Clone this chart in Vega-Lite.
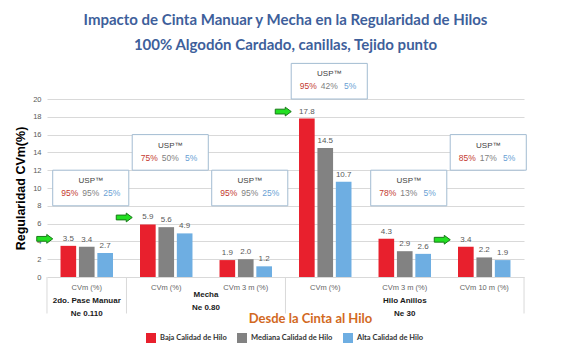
{
  "$schema": "https://vega.github.io/schema/vega-lite/v6.json",
  "autosize": "none",
  "width": 477,
  "height": 178,
  "padding": {"left": 47, "top": 99, "right": 39, "bottom": 77},
  "background": "white",
  "title": {
    "text": ["Impacto de Cinta Manuar y Mecha en la Regularidad de Hilos", "100% Algodón Cardado, canillas, Tejido punto"],
    "font": "Lato", "fontSize": 15, "fontWeight": "bold", "color": "#3e5f9b",
    "anchor": "middle", "frame": "group", "offset": 10, "lineHeight": 25
  },
  "datasets": {
    "bars": [
      {"cat": "CVm (%)|1", "q": "Baja Calidad de Hilo", "v": 3.5},
      {"cat": "CVm (%)|1", "q": "Mediana Calidad de Hilo", "v": 3.4},
      {"cat": "CVm (%)|1", "q": "Alta Calidad de Hilo", "v": 2.7},
      {"cat": "CVm (%)|2", "q": "Baja Calidad de Hilo", "v": 5.9},
      {"cat": "CVm (%)|2", "q": "Mediana Calidad de Hilo", "v": 5.6},
      {"cat": "CVm (%)|2", "q": "Alta Calidad de Hilo", "v": 4.9},
      {"cat": "CVm 3 m (%)|3", "q": "Baja Calidad de Hilo", "v": 1.9},
      {"cat": "CVm 3 m (%)|3", "q": "Mediana Calidad de Hilo", "v": 2.0},
      {"cat": "CVm 3 m (%)|3", "q": "Alta Calidad de Hilo", "v": 1.2},
      {"cat": "CVm (%)|4", "q": "Baja Calidad de Hilo", "v": 17.8},
      {"cat": "CVm (%)|4", "q": "Mediana Calidad de Hilo", "v": 14.5},
      {"cat": "CVm (%)|4", "q": "Alta Calidad de Hilo", "v": 10.7},
      {"cat": "CVm 3 m (%)|5", "q": "Baja Calidad de Hilo", "v": 4.3},
      {"cat": "CVm 3 m (%)|5", "q": "Mediana Calidad de Hilo", "v": 2.9},
      {"cat": "CVm 3 m (%)|5", "q": "Alta Calidad de Hilo", "v": 2.6},
      {"cat": "CVm 10 m (%)|6", "q": "Baja Calidad de Hilo", "v": 3.4},
      {"cat": "CVm 10 m (%)|6", "q": "Mediana Calidad de Hilo", "v": 2.2},
      {"cat": "CVm 10 m (%)|6", "q": "Alta Calidad de Hilo", "v": 1.9}
    ],
    "boxes": [
      {"cat": "CVm (%)|1", "top": 12, "bottom": 8},
      {"cat": "CVm (%)|2", "top": 16, "bottom": 12},
      {"cat": "CVm 3 m (%)|3", "top": 12, "bottom": 8},
      {"cat": "CVm (%)|4", "top": 24, "bottom": 20},
      {"cat": "CVm 3 m (%)|5", "top": 12, "bottom": 8},
      {"cat": "CVm 10 m (%)|6", "top": 16, "bottom": 12}
    ],
    "usp": [
      {"cat": "CVm (%)|1", "top": 12, "q": "Baja", "pct": "95%"},
      {"cat": "CVm (%)|1", "top": 12, "q": "Mediana", "pct": "95%"},
      {"cat": "CVm (%)|1", "top": 12, "q": "Alta", "pct": "25%"},
      {"cat": "CVm (%)|2", "top": 16, "q": "Baja", "pct": "75%"},
      {"cat": "CVm (%)|2", "top": 16, "q": "Mediana", "pct": "50%"},
      {"cat": "CVm (%)|2", "top": 16, "q": "Alta", "pct": "5%"},
      {"cat": "CVm 3 m (%)|3", "top": 12, "q": "Baja", "pct": "95%"},
      {"cat": "CVm 3 m (%)|3", "top": 12, "q": "Mediana", "pct": "95%"},
      {"cat": "CVm 3 m (%)|3", "top": 12, "q": "Alta", "pct": "25%"},
      {"cat": "CVm (%)|4", "top": 24, "q": "Baja", "pct": "95%"},
      {"cat": "CVm (%)|4", "top": 24, "q": "Mediana", "pct": "42%"},
      {"cat": "CVm (%)|4", "top": 24, "q": "Alta", "pct": "5%"},
      {"cat": "CVm 3 m (%)|5", "top": 12, "q": "Baja", "pct": "78%"},
      {"cat": "CVm 3 m (%)|5", "top": 12, "q": "Mediana", "pct": "13%"},
      {"cat": "CVm 3 m (%)|5", "top": 12, "q": "Alta", "pct": "5%"},
      {"cat": "CVm 10 m (%)|6", "top": 16, "q": "Baja", "pct": "85%"},
      {"cat": "CVm 10 m (%)|6", "top": 16, "q": "Mediana", "pct": "17%"},
      {"cat": "CVm 10 m (%)|6", "top": 16, "q": "Alta", "pct": "5%"}
    ],
    "arrows": [
      {"cat": "CVm (%)|1", "v": 3.5},
      {"cat": "CVm (%)|2", "v": 5.9},
      {"cat": "CVm (%)|4", "v": 17.8},
      {"cat": "CVm 10 m (%)|6", "v": 3.4}
    ],
    "groups": [
      {"cat": "CVm (%)|1", "label": "2do. Pase Manuar\nNe 0.110"},
      {"cat": "CVm 3 m (%)|5", "label": "Hilo Anillos\nNe  30"}
    ],
    "groups2": [
      {"cat": "CVm 3 m (%)|3", "label": "Mecha\nNe 0.80"}
    ],
    "seps": [
      {"cat": "CVm (%)|1"},
      {"cat": "CVm (%)|2"},
      {"cat": "CVm (%)|4"}
    ],
    "sepEnd": [
      {"cat": "CVm 10 m (%)|6"}
    ]
  },
  "layer": [
    {
      "data": {"name": "bars"},
      "mark": {"type": "bar"},
      "encoding": {
        "x": {
          "field": "cat", "type": "nominal", "sort": null,
          "scale": {"paddingInner": 0.34, "paddingOuter": 0.17},
          "axis": {
            "labelExpr": "split(datum.label, '|')[0]",
            "labelAngle": 0, "labelFont": "Liberation Sans", "labelFontSize": 7.5,
            "labelColor": "#666666", "labelPadding": 6, "ticks": false, "domain": false,
            "title": "Desde la Cinta al Hilo", "titleFont": "Lato", "titleFontSize": 13,
            "titleFontWeight": "bold", "titleColor": "#d2691e", "titlePadding": 22,
            "titleX": 263, "titleAlign": "center"
          }
        },
        "xOffset": {
          "field": "q", "type": "nominal",
          "sort": ["Baja Calidad de Hilo", "Mediana Calidad de Hilo", "Alta Calidad de Hilo"],
          "scale": {"paddingInner": 0.15, "paddingOuter": 0}
        },
        "y": {
          "field": "v", "type": "quantitative",
          "scale": {"domain": [0, 20], "nice": false},
          "axis": {
            "values": [0, 2, 4, 6, 8, 10, 12, 14, 16, 18, 20],
            "tickCount": 11,
            "labelOverlap": false,
            "title": "Regularidad CVm(%)"
          }
        },
        "color": {
          "field": "q", "type": "nominal",
          "scale": {
            "domain": ["Baja Calidad de Hilo", "Mediana Calidad de Hilo", "Alta Calidad de Hilo"],
            "range": ["#e8202d", "#828282", "#6eaee2"]
          },
          "legend": {
            "orient": "none", "legendX": 99, "legendY": 234, "direction": "horizontal", "title": null,
            "symbolType": "square", "symbolSize": 100, "symbolStrokeWidth": 0,
            "labelFont": "Lato", "labelFontSize": 7.5, "labelFontWeight": "bold",
            "labelColor": "#333333", "columnPadding": 10, "padding": 0
          }
        }
      }
    },
    {
      "data": {"name": "bars"},
      "mark": {"type": "text", "dy": -7, "font": "Liberation Sans", "fontSize": 8, "color": "#595959"},
      "encoding": {
        "x": {"field": "cat", "type": "nominal", "sort": null},
        "xOffset": {"field": "q", "type": "nominal", "sort": ["Baja Calidad de Hilo", "Mediana Calidad de Hilo", "Alta Calidad de Hilo"]},
        "y": {"field": "v", "type": "quantitative"},
        "text": {"field": "v", "type": "quantitative", "format": ".1f"}
      }
    },
    {
      "data": {"name": "boxes"},
      "mark": {"type": "bar", "fill": "white", "stroke": "#a3bcd2", "strokeWidth": 1, "width": {"band": 1.45}, "xOffset": 4},
      "encoding": {
        "x": {"field": "cat", "type": "nominal", "sort": null},
        "y": {"field": "top", "type": "quantitative"},
        "y2": {"field": "bottom"}
      }
    },
    {
      "data": {"name": "boxes"},
      "mark": {"type": "text", "text": "USP™", "dy": 11, "dx": 4, "baseline": "middle", "font": "Liberation Sans", "fontSize": 8, "color": "#404040"},
      "encoding": {
        "x": {"field": "cat", "type": "nominal", "sort": null},
        "y": {"field": "top", "type": "quantitative"}
      }
    },
    {
      "data": {"name": "usp"},
      "transform": [{"filter": "datum.q == 'Baja'"}],
      "mark": {"type": "text", "dy": 23, "dx": -17, "baseline": "middle", "font": "Liberation Sans", "fontSize": 8.5, "color": "#c43a2f"},
      "encoding": {
        "x": {"field": "cat", "type": "nominal", "sort": null},
        "y": {"field": "top", "type": "quantitative"},
        "text": {"field": "pct", "type": "nominal"}
      }
    },
    {
      "data": {"name": "usp"},
      "transform": [{"filter": "datum.q == 'Mediana'"}],
      "mark": {"type": "text", "dy": 23, "dx": 4, "baseline": "middle", "font": "Liberation Sans", "fontSize": 8.5, "color": "#7f7f7f"},
      "encoding": {
        "x": {"field": "cat", "type": "nominal", "sort": null},
        "y": {"field": "top", "type": "quantitative"},
        "text": {"field": "pct", "type": "nominal"}
      }
    },
    {
      "data": {"name": "usp"},
      "transform": [{"filter": "datum.q == 'Alta'"}],
      "mark": {"type": "text", "dy": 23, "dx": 25, "baseline": "middle", "font": "Liberation Sans", "fontSize": 8.5, "color": "#6a9fd4"},
      "encoding": {
        "x": {"field": "cat", "type": "nominal", "sort": null},
        "y": {"field": "top", "type": "quantitative"},
        "text": {"field": "pct", "type": "nominal"}
      }
    },
    {
      "data": {"name": "arrows"},
      "mark": {
        "type": "point", "filled": true, "size": 256, "xOffset": -42, "yOffset": -7,
        "shape": "M-1,-0.3L0.25,-0.3L0.25,-0.55L1,0L0.25,0.55L0.25,0.3L-1,0.3Z",
        "fill": "#22e022", "stroke": "#197a19", "strokeWidth": 1, "opacity": 1
      },
      "encoding": {
        "x": {"field": "cat", "type": "nominal", "sort": null},
        "y": {"field": "v", "type": "quantitative"}
      }
    },
    {
      "data": {"name": "seps"},
      "mark": {"type": "rule", "color": "#d9d9d9", "strokeWidth": 1},
      "encoding": {
        "x": {"field": "cat", "type": "nominal", "sort": null, "bandPosition": -0.258},
        "y": {"datum": 0},
        "y2": {"datum": -4.1}
      }
    },
    {
      "data": {"name": "sepEnd"},
      "mark": {"type": "rule", "color": "#d9d9d9", "strokeWidth": 1},
      "encoding": {
        "x": {"field": "cat", "type": "nominal", "sort": null, "bandPosition": 1.258},
        "y": {"datum": 0},
        "y2": {"datum": -4.1}
      }
    },
    {
      "data": {"name": "groups"},
      "mark": {"type": "text", "lineBreak": "\n", "baseline": "middle", "font": "Liberation Sans", "fontSize": 8, "fontWeight": "bold", "color": "#1a1a1a", "lineHeight": 13},
      "encoding": {
        "x": {"field": "cat", "type": "nominal", "sort": null},
        "y": {"datum": -2.7},
        "text": {"field": "label", "type": "nominal"}
      }
    },
    {
      "data": {"name": "groups2"},
      "mark": {"type": "text", "lineBreak": "\n", "baseline": "middle", "font": "Liberation Sans", "fontSize": 8, "fontWeight": "bold", "color": "#1a1a1a", "lineHeight": 13},
      "encoding": {
        "x": {"field": "cat", "type": "nominal", "sort": null, "bandPosition": -0.258},
        "y": {"datum": -2.0},
        "text": {"field": "label", "type": "nominal"}
      }
    }
  ],
  "config": {
    "view": {"stroke": null},
    "axisY": {
      "domain": false, "ticks": false, "labelFont": "Liberation Sans",
      "labelFontSize": 7.5, "labelColor": "#595959", "labelPadding": 6,
      "gridColor": "#d9d9d9", "gridWidth": 1,
      "titleFont": "Liberation Sans",
      "titleFontSize": 12.5, "titleFontWeight": "bold", "titleColor": "#000000",
      "titlePadding": 5
    }
  }
}
